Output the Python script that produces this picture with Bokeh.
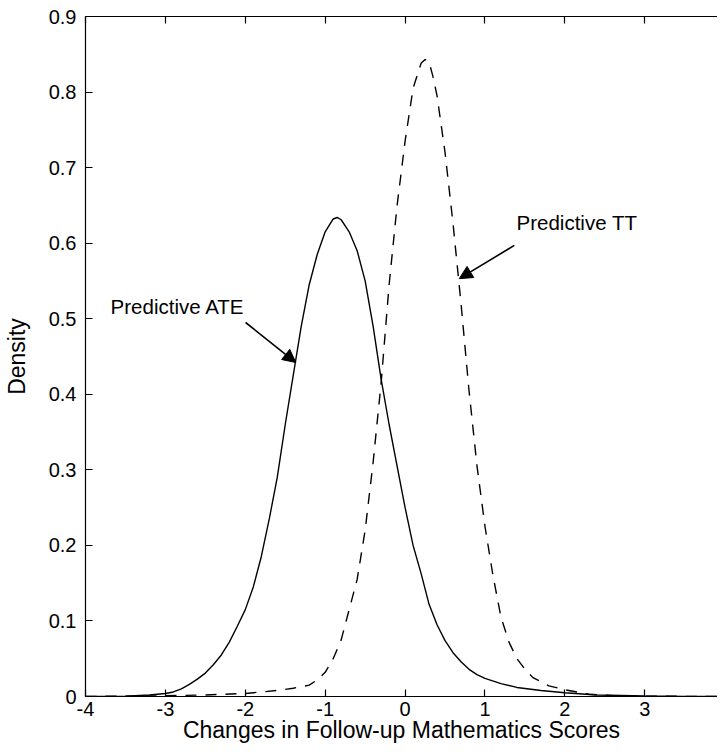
from bokeh.plotting import figure
from bokeh.models import Label, Arrow, NormalHead, LinearAxis, FixedTicker, Range1d
from bokeh.embed import file_html
from bokeh.resources import INLINE

# ---- data ----
ate_x = [-4.0, -3.5, -3.2, -3.0, -2.9, -2.8, -2.7, -2.6, -2.5, -2.4, -2.3, -2.2, -2.1, -2.0,
         -1.9, -1.8, -1.7, -1.6, -1.5, -1.4, -1.3, -1.2, -1.1, -1.0, -0.9, -0.85, -0.8,
         -0.7, -0.6, -0.5, -0.4, -0.3, -0.2, -0.1, 0.0, 0.1, 0.2, 0.3, 0.4, 0.5, 0.6, 0.7,
         0.8, 0.9, 1.0, 1.2, 1.4, 1.7, 2.0, 2.4, 3.0, 3.5, 4.0]
ate_y = [0.0, 0.0005, 0.002, 0.004, 0.006, 0.010, 0.016, 0.023, 0.031, 0.042, 0.055, 0.072,
         0.093, 0.115, 0.145, 0.185, 0.235, 0.29, 0.36, 0.425, 0.49, 0.545, 0.585, 0.615,
         0.632, 0.634, 0.631, 0.615, 0.59, 0.55, 0.49, 0.42, 0.36, 0.305, 0.25, 0.20, 0.163,
         0.122, 0.095, 0.074, 0.058, 0.046, 0.036, 0.029, 0.024, 0.017, 0.012, 0.008, 0.005,
         0.002, 0.0007, 0.0002, 0.0]

tt_x = [-4.0, -3.0, -2.5, -2.0, -1.6, -1.4, -1.2, -1.1, -1.0, -0.9, -0.8, -0.7, -0.6, -0.5,
        -0.4, -0.3, -0.2, -0.1, 0.0, 0.1, 0.2, 0.25, 0.3, 0.35, 0.4, 0.5, 0.6, 0.7, 0.8, 0.9,
        1.0, 1.1, 1.2, 1.3, 1.4, 1.5, 1.6, 1.8, 2.0, 2.3, 2.6, 3.0, 4.0]
tt_y = [0.0, 0.001, 0.002, 0.004, 0.008, 0.011, 0.015, 0.022, 0.032, 0.05, 0.075, 0.115,
        0.155, 0.22, 0.31, 0.415, 0.545, 0.65, 0.735, 0.805, 0.838, 0.843, 0.84, 0.82, 0.795,
        0.72, 0.626, 0.52, 0.405, 0.305, 0.225, 0.16, 0.105, 0.072, 0.05, 0.036, 0.025,
        0.014, 0.009, 0.003, 0.001, 0.0004, 0.0]

x_ticks = [-4, -3, -2, -1, 0, 1, 2, 3, 4]
x_tick_labels = ["-4", "-3", "-2", "-1", "0", "1", "2", "3", "4"]
y_ticks = [0, 0.1, 0.2, 0.3, 0.4, 0.5, 0.6, 0.7, 0.8, 0.9]
y_tick_labels = ["0", "0.1", "0.2", "0.3", "0.4", "0.5", "0.6", "0.7", "0.8", "0.9"]

x_title = "Changes in Follow-up Mathematics Scores"
y_title = "Density"

ate_label = "Predictive ATE"
ate_label_pos = (-3.686, 0.516)
ate_arrow = (-1.996, 0.495, -1.367, 0.442)
tt_label = "Predictive TT"
tt_label_pos = (1.395, 0.627)
tt_arrow = (1.367, 0.597, 0.678, 0.553)

FONT = "Liberation Sans"

p = figure(frame_width=632, frame_height=680, x_range=Range1d(-4, 3.91), y_range=Range1d(0, 0.9),
           output_backend="svg", toolbar_location=None,
           min_border_left=0, min_border_right=0, min_border_top=16, min_border_bottom=0)
p.outline_line_color = None
p.grid.visible = False
p.background_fill_color = "white"
p.border_fill_color = "white"


def style_axis(ax, ticks, labels):
    ax.ticker = FixedTicker(ticks=ticks)
    ax.major_label_overrides = {t: l for t, l in zip(ticks, labels)}
    ax.major_tick_in = 7
    ax.major_tick_out = 0
    ax.minor_tick_in = 0
    ax.minor_tick_out = 0
    ax.axis_line_color = "black"
    ax.axis_line_width = 1.2
    ax.major_tick_line_color = "black"
    ax.major_tick_line_width = 1.2
    ax.major_label_text_font = FONT
    ax.major_label_text_color = "black"
    ax.major_label_text_font_size = "20px"


xa = p.xaxis[0]
style_axis(xa, x_ticks, x_tick_labels)
xa.major_label_standoff = 5
xa.axis_label = x_title
xa.axis_label_text_font = FONT
xa.axis_label_text_font_size = "23px"
xa.axis_label_text_font_style = "normal"
xa.axis_label_text_color = "black"
xa.axis_label_standoff = -2

ya = p.yaxis[0]
style_axis(ya, y_ticks, y_tick_labels)
ya.major_label_standoff = 9
ya.axis_label = y_title
ya.axis_label_text_font = FONT
ya.axis_label_text_font_size = "23px"
ya.axis_label_text_font_style = "normal"
ya.axis_label_text_color = "black"
ya.axis_label_standoff = 16

# mirrored inward ticks along the top edge (no labels)
top = LinearAxis()
style_axis(top, x_ticks, [""] * len(x_ticks))
top.major_label_text_font_size = "6px"
top.major_label_standoff = 0
p.add_layout(top, "above")

p.line(ate_x, ate_y, line_color="black", line_width=1.4)
p.line(tt_x, tt_y, line_color="black", line_width=1.4, line_dash="11 9")

p.add_layout(Label(x=ate_label_pos[0], y=ate_label_pos[1], text=ate_label,
                   text_font=FONT, text_font_size="20.5px", text_color="black",
                   text_align="left", text_baseline="middle"))
p.add_layout(Label(x=tt_label_pos[0], y=tt_label_pos[1], text=tt_label,
                   text_font=FONT, text_font_size="20.5px", text_color="black",
                   text_align="left", text_baseline="middle"))

for (x0, y0, x1, y1) in (ate_arrow, tt_arrow):
    p.add_layout(Arrow(x_start=x0, y_start=y0, x_end=x1, y_end=y1,
                       line_color="black", line_width=1.6,
                       end=NormalHead(size=13, fill_color="black", line_color="black")))

open("out.html", "w").write(file_html(p, INLINE))
